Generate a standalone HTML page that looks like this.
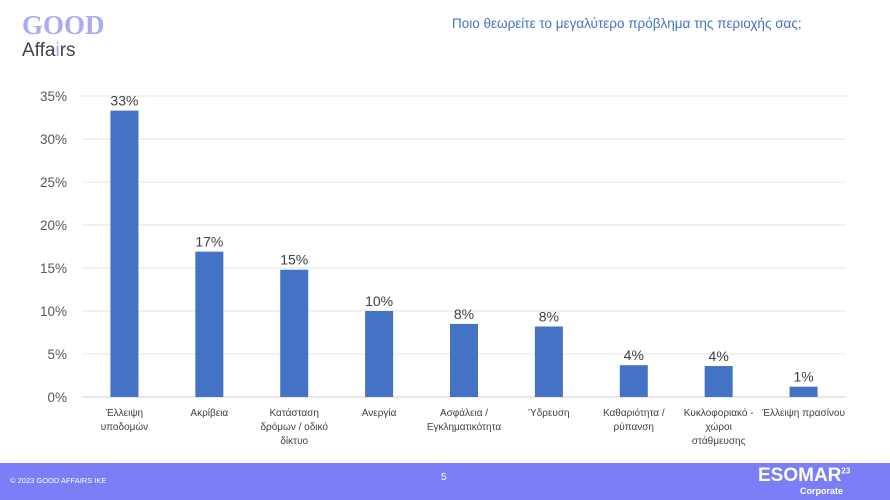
<!DOCTYPE html>
<html><head><meta charset="utf-8"><style>
body{margin:0;width:890px;height:500px;overflow:hidden;background:#fff;font-family:"Liberation Sans","DejaVu Sans",sans-serif;position:relative}
.abs{position:absolute}
</style></head><body>
<div class="abs" style="left:22px;top:10px;font-family:'Liberation Serif',serif;font-weight:bold;font-size:27px;color:#a9acf2">GOOD</div>
<div class="abs" style="left:22px;top:40px;font-size:19px;color:#444">Affa<span style="color:#9fa3f0">i</span>rs</div>
<div class="abs" style="left:452px;top:16px;font-size:13.5px;color:#4472c4">Ποιο θεωρείτε το μεγαλύτερο πρόβλημα της περιοχής σας;</div>
<svg class="abs" style="left:0;top:0" width="890" height="463">
<g id="grid"></g><g id="bars"></g><g id="labels"></g>
</svg>
<div class="abs" style="left:0;top:463px;width:890px;height:37px;background:#7b7ff7;color:#fff">
<div class="abs" style="left:10px;top:13px;font-size:7.5px">© 2023 GOOD AFFAIRS IKE</div>
<div class="abs" style="left:441px;top:9px;font-size:10px">5</div>
<div class="abs" style="left:758px;top:2px;font-size:19px;font-weight:bold">ESOMAR<sup style="font-size:8px">23</sup></div>
<div class="abs" style="left:800px;top:23px;font-size:9px;font-weight:bold">Corporate</div>
</div>
<script>
const categories=[["Έλλειψη","υποδομών"],["Ακρίβεια"],["Κατάσταση","δρόμων / οδικό","δίκτυο"],["Ανεργία"],["Ασφάλεια /","Εγκληματικότητα"],["Ύδρευση"],["Καθαριότητα /","ρύπανση"],["Κυκλοφοριακό -","χώροι","στάθμευσης"],["Έλλειψη πρασίνου"]];
const values=[33.3,16.9,14.8,10.0,8.5,8.2,3.7,3.6,1.2];
const valueLabels=["33%","17%","15%","10%","8%","8%","4%","4%","1%"];
const ticks=[0,5,10,15,20,25,30,35];
const ns="http://www.w3.org/2000/svg";
const X0=82,X1=846,Y0=397,Ymax=35,Ytop=96;
const y=v=>Y0-(v/Ymax)*(Y0-Ytop);
const bw=(X1-X0)/categories.length;
const xc=i=>X0+bw*(i+0.5);
function mk(t,a,p){const e=document.createElementNS(ns,t);for(const k in a)e.setAttribute(k,a[k]);p.appendChild(e);return e;}
const g=document.getElementById('grid'),b=document.getElementById('bars'),l=document.getElementById('labels');
ticks.forEach(t=>{
 const ln=mk('line',{x1:X0,x2:X1,y1:y(t),y2:y(t),stroke:t===0?'#d0d0d0':'#e6e6e6','stroke-width':1},g);
 
 
 const tx=mk('text',{x:67,y:y(t)+5,'text-anchor':'end','font-size':13.5,fill:'#595959'},g);
 tx.textContent=t+'%';
 
 
});
values.forEach((v,i)=>{
 const r=mk('rect',{x:xc(i)-14,y:y(v),width:28,height:Y0-y(v),fill:'#4472c4'},b);
 
 
 const t=mk('text',{x:xc(i),y:y(v)-5,'text-anchor':'middle','font-size':14,fill:'#404040'},l);
 t.textContent=valueLabels[i];
 
 
 categories[i].forEach((s,j)=>{
  const c=mk('text',{x:xc(i),y:416+j*14,'text-anchor':'middle','font-size':10,fill:'#404040'},l);
  c.textContent=s;
  
  
 });
});
</script>
</body></html>
